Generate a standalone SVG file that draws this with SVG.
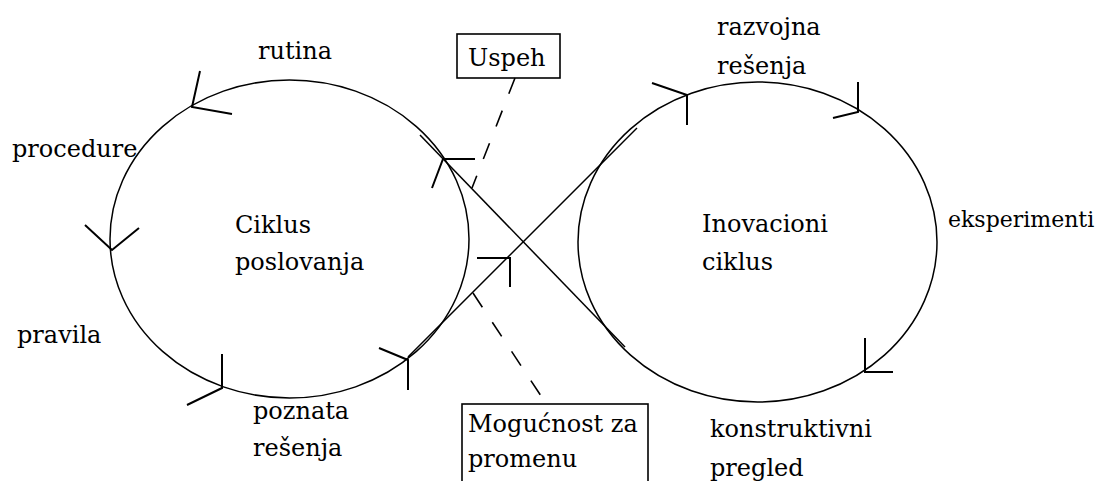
<svg xmlns="http://www.w3.org/2000/svg" width="1106" height="481" viewBox="0 0 1106 481">
  <style>
    .bg { fill: #ffffff; }
    .cycle { fill: none; stroke: #000; stroke-width: 1.5; }
    .flow { fill: none; stroke: #000; stroke-width: 1.5; }
    .barb { fill: none; stroke: #000; stroke-width: 2; stroke-linecap: butt; }
    .leader { fill: none; stroke: #000; stroke-width: 1.6; stroke-dasharray: 17 18; }
    .box { fill: #ffffff; stroke: #000; stroke-width: 1.6; }
    .lbl { font-family: "DejaVu Serif", serif; font-size: 24px; fill: #000; }
    .lbl-narrow { font-size: 22px; }
  </style>

  <rect class="bg" x="0" y="0" width="1106" height="481"/>

  <!-- Business cycle (left loop) -->
  <g id="ciklus-poslovanja">
    <ellipse class="cycle" cx="289.5" cy="239" rx="179.5" ry="159"/>
    <text class="lbl" x="235" y="233">Ciklus</text>
    <text class="lbl" x="235" y="270">poslovanja</text>
  </g>

  <!-- Innovation cycle (right loop) -->
  <g id="inovacioni-ciklus">
    <ellipse class="cycle" cx="757.5" cy="242" rx="179.5" ry="160"/>
    <text class="lbl" x="702" y="232">Inovacioni</text>
    <text class="lbl" x="702" y="270">ciklus</text>
  </g>

  <!-- Labels around the loops -->
  <g id="lbl-rutina"><text class="lbl" x="258" y="59">rutina</text></g>
  <g id="lbl-procedure"><text class="lbl" x="12" y="157">procedure</text></g>
  <g id="lbl-pravila"><text class="lbl" x="17" y="343">pravila</text></g>
  <g id="lbl-poznata">
    <text class="lbl" x="253" y="419">poznata</text>
    <text class="lbl" x="253" y="456">rešenja</text>
  </g>
  <g id="lbl-razvojna">
    <text class="lbl" x="717" y="35">razvojna</text>
    <text class="lbl" x="717" y="74">rešenja</text>
  </g>
  <g id="lbl-eksperimenti"><text class="lbl lbl-narrow" x="948" y="227">eksperimenti</text></g>
  <g id="lbl-konstruktivni">
    <text class="lbl" x="710" y="437">konstruktivni</text>
    <text class="lbl" x="710" y="476">pregled</text>
  </g>

  <!-- Callout boxes -->
  <g id="uspeh">
    <rect class="box" x="457" y="34" width="103" height="44"/>
    <text class="lbl" x="468" y="66">Uspeh</text>
  </g>
  <g id="mogucnost">
    <rect class="box" x="462" y="404" width="186" height="90"/>
    <text class="lbl" x="468" y="432">Mogućnost za</text>
    <text class="lbl" x="468" y="467">promenu</text>
  </g>

  <!-- Connectors: crossing strands, leaders and direction barbs -->
  <g id="connectors">
    <line class="flow" x1="420" y1="135" x2="625" y2="347"/>
    <line class="flow" x1="408" y1="357" x2="637" y2="128"/>

    <line class="leader" x1="515" y1="78" x2="472" y2="188"/>
    <line class="leader" x1="473" y1="293" x2="545" y2="402"/>

    <path class="barb" d="M200 71 L192 107 L232 114"/>
    <path class="barb" d="M85 225 L112 250 L139 228"/>
    <path class="barb" d="M222 354 L222 388 L187 405"/>
    <path class="barb" d="M379 348 L408 360 L408 390"/>
    <path class="barb" d="M477 258 L510 258 L510 287"/>
    <path class="barb" d="M475 159 L443 159 L432 188"/>
    <path class="barb" d="M652 83 L687 95 L687 125"/>
    <path class="barb" d="M858 82 L858 112 L833 118"/>
    <path class="barb" d="M865 338 L865 372 L893 372"/>
  </g>
</svg>
